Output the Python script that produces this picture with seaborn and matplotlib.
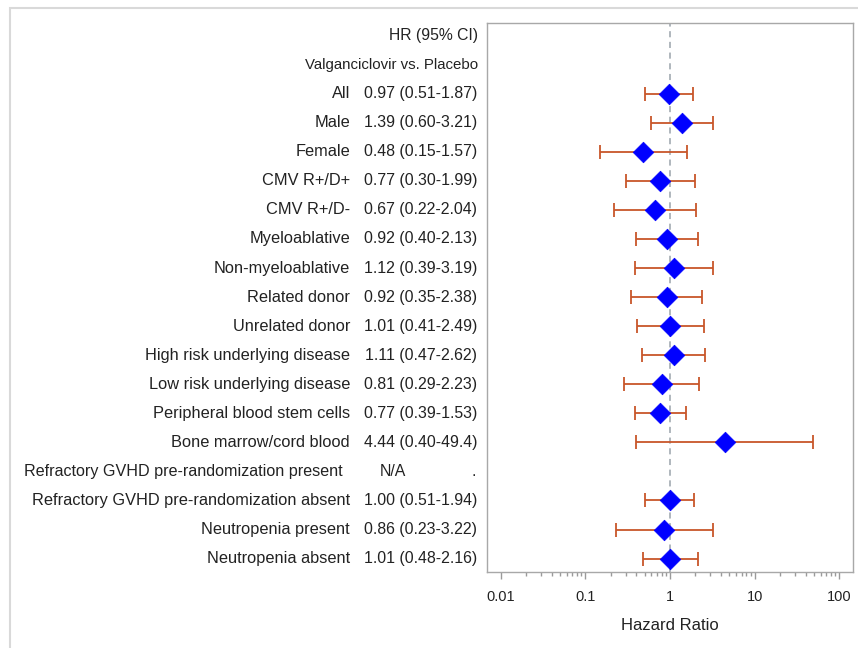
import matplotlib
matplotlib.use("Agg")
import matplotlib.pyplot as plt
import matplotlib.ticker as mticker
import matplotlib.transforms as mtransforms
from matplotlib.patches import Rectangle
import numpy as np
import pandas as pd
import seaborn as sns

# Subgroups, HR and 95% CI
subgroups = ['All', 'Male', 'Female', 'CMV R+/D+', 'CMV R+/D-', 'Myeloablative',
             'Non-myeloablative', 'Related donor', 'Unrelated donor',
             'High risk underlying disease', 'Low risk underlying disease',
             'Peripheral blood stem cells', 'Bone marrow/cord blood',
             'Refractory GVHD pre-randomization present',
             'Refractory GVHD pre-randomization absent',
             'Neutropenia present', 'Neutropenia absent']
hr = [0.97, 1.39, 0.48, 0.77, 0.67, 0.92, 1.12, 0.92, 1.01, 1.11, 0.81, 0.77, 4.44,
      np.nan, 1.00, 0.86, 1.01]
lower = [0.51, 0.60, 0.15, 0.30, 0.22, 0.40, 0.39, 0.35, 0.41, 0.47, 0.29, 0.39, 0.40,
         np.nan, 0.51, 0.23, 0.48]
upper = [1.87, 3.21, 1.57, 1.99, 2.04, 2.13, 3.19, 2.38, 2.49, 2.62, 2.23, 1.53, 49.4,
         np.nan, 1.94, 3.22, 2.16]
header = ['HR (95% CI)', 'Valganciclovir vs. Placebo']

df = pd.DataFrame({'group': subgroups, 'hr': hr, 'lo': lower, 'hi': upper})
df['row'] = np.arange(len(df)) + len(header)
nrows = len(df) + len(header)

sns.set_style('white')
plt.rcParams['font.family'] = ['Liberation Sans', 'DejaVu Sans']
txt = '#222222'

fig = plt.figure(figsize=(8.58, 6.48), dpi=100)
ax = fig.add_axes([486.7 / 858, 1 - 571.7 / 648, (853.3 - 486.7) / 858, (571.7 - 23.3) / 648])

# outer light frame
fig.patches.append(Rectangle((10 / 858, -0.2), 1.2, 1.2 - 8 / 648, transform=fig.transFigure,
                             fill=False, edgecolor='#d9d9d9', linewidth=1.5))

ax.axvline(1, color='#9aa3ab', linestyle=(0, (4, 3)), linewidth=1.1, zorder=1)
d = df.dropna()
ax.errorbar(d['hr'], d['row'], xerr=[d['hr'] - d['lo'], d['hi'] - d['hr']], fmt='none',
            ecolor='#c8562a', elinewidth=1.3, capsize=4.8, capthick=1.3, zorder=2)
sns.scatterplot(data=d, x='hr', y='row', marker='D', s=110, color='#0000ff',
                edgecolor='#0000ff', linewidth=0.5, ax=ax, zorder=3, legend=False)

ax.set_xscale('log')
ax.set_xlim(10 ** -2.165, 10 ** 2.165)
ax.set_ylim(nrows - 1 + 0.45, -0.42)
ax.set_yticks([])
ax.set_ylabel('')

# text columns on the left (figure x, data y)
tr = mtransforms.blended_transform_factory(fig.transFigure, ax.transData)
ax.text(478 / 858, 0, header[0], transform=tr, ha='right', va='center', fontsize=11.3, color=txt)
ax.text(478 / 858, 1, header[1], transform=tr, ha='right', va='center', fontsize=10.8, color=txt)
for r in df.itertuples():
    if np.isnan(r.hr):
        ax.text(343 / 858, r.row, r.group, transform=tr, ha='right', va='center',
                fontsize=11.6, color=txt)
        ax.text(380 / 858, r.row, 'N/A', transform=tr, ha='left', va='center',
                fontsize=11.4, color=txt)
        ax.text(476 / 858, r.row, '.', transform=tr, ha='right', va='center',
                fontsize=11.4, color=txt)
        continue
    ci = '%.2f-%.2f' % (r.lo, r.hi) if r.hi < 10 else '%.2f-%.1f' % (r.lo, r.hi)
    ax.text(350 / 858, r.row, r.group, transform=tr, ha='right', va='center',
            fontsize=11.8, color=txt)
    ax.text(477 / 858, r.row, '%.2f (%s)' % (r.hr, ci), transform=tr, ha='right',
            va='center', fontsize=11.4, color=txt)

ax.xaxis.set_major_locator(mticker.FixedLocator([0.01, 0.1, 1, 10, 100]))
ax.xaxis.set_major_formatter(mticker.FixedFormatter(['0.01', '0.1', '1', '10', '100']))
minor = [m * 10.0 ** e for e in range(-2, 2) for m in range(2, 10)]
ax.xaxis.set_minor_locator(mticker.FixedLocator(minor))
ax.xaxis.set_minor_formatter(mticker.NullFormatter())
ax.tick_params(axis='x', which='major', direction='out', length=5, width=1, color='#9a9a9a',
               labelsize=10.5, labelcolor=txt, pad=8, bottom=True)
ax.tick_params(axis='x', which='minor', direction='out', length=3, width=1, color='#9a9a9a',
               bottom=True)
ax.set_xlabel('Hazard Ratio', fontsize=12, color=txt, labelpad=10)

for s in ax.spines.values():
    s.set_visible(True)
    s.set_color('#a8a8a8')
    s.set_linewidth(1)

fig.savefig('out.png', dpi=100)
